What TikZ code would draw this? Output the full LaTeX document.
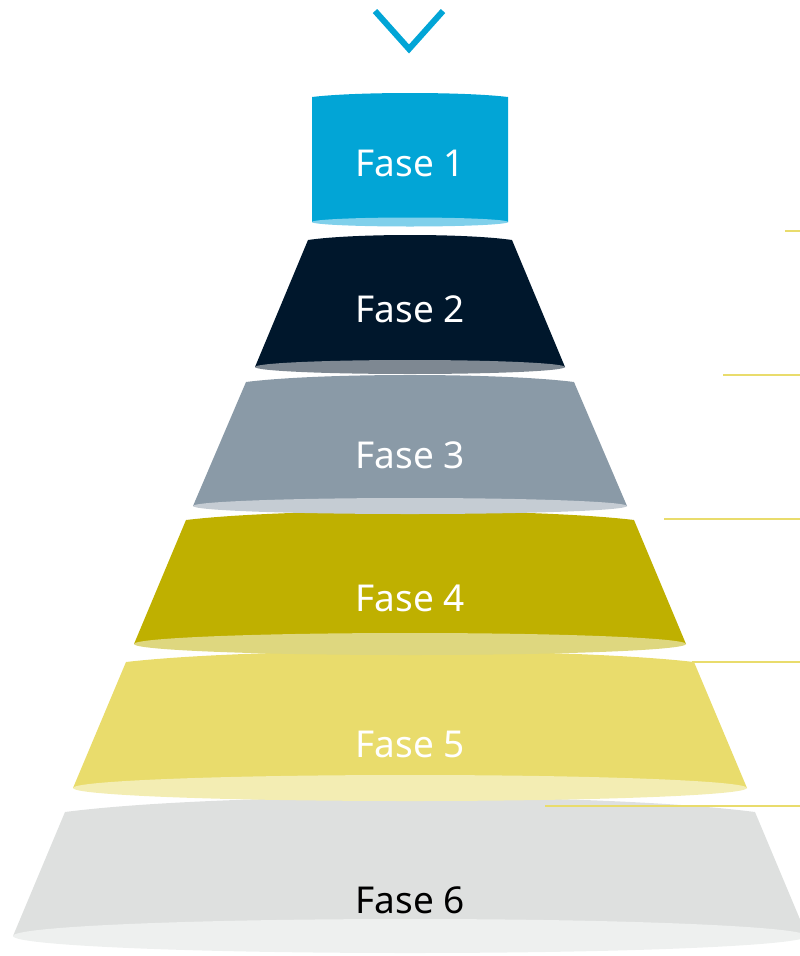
\documentclass[tikz,border=0pt]{standalone}
\usepackage{fontspec}
\setmainfont{Noto Sans}
\usetikzlibrary{calc}
\definecolor{fase1}{HTML}{02A5D6}
\definecolor{fase1 base}{HTML}{80D0EB}
\definecolor{fase2}{HTML}{00172C}
\definecolor{fase2 base}{HTML}{7E8892}
\definecolor{fase3}{HTML}{8A9AA7}
\definecolor{fase3 base}{HTML}{C5CCD3}
\definecolor{fase4}{HTML}{BFB000}
\definecolor{fase4 base}{HTML}{DED77F}
\definecolor{fase5}{HTML}{E9DC6C}
\definecolor{fase5 base}{HTML}{F3EDB3}
\definecolor{fase6}{HTML}{DEE0DF}
\definecolor{fase6 base}{HTML}{EEF0EF}
\definecolor{leaderyellow}{HTML}{E9DC6C}

\begin{document}
\begin{tikzpicture}[x=1pt, y=-1pt,
    fase label/.style={font=\fontsize{37}{42}\selectfont, inner sep=0pt},
    leader/.style={draw=leaderyellow, line width=1.2pt}]
    \useasboundingbox (0,0) rectangle (800,956);

    % Freccia in alto
    \coordinate (chev l) at (375,11);
    \coordinate (chev m) at (409,49);
    \coordinate (chev r) at (443,11);
    \draw[fase1, line width=6pt] (chev l) -- (chev m) -- (chev r);

    % Segmenti (dal basso verso l'alto)
    \foreach \n/\yt/\wt/\yb/\wb/\rt/\rb/\ty/\tc in {
        6/812/345/936/397/15/17/900/black,
        5/662/284/788/337/11/13/744/white,
        4/520/224/644/276/9/11/598/white,
        3/382/164/506/217/7/8/455/white,
        2/240/102/367/155/5/7/309/white,
        1/97/98/222/98/4/4.5/163/white}{
        \fill[fase\n] (410-\wt,\yt)
            .. controls (410-0.55*\wt,\yt-1.333*\rt) and (410+0.55*\wt,\yt-1.333*\rt) .. (410+\wt,\yt)
            -- (410+\wb,\yb) -- (410-\wb,\yb) -- cycle;
        \fill[fase\n\space base] (410,\yb) ellipse [x radius=\wb, y radius=\rb];
        \node[fase label, text=\tc] (fase\n) at (410,\ty) {Fase \n};
    }

    % Linee a destra
    \foreach \k/\xs/\yl in {1/785/231, 2/723/375, 3/664/519, 4/692/662, 5/545/806}{
        \coordinate (lead\k a) at (\xs,\yl);
        \coordinate (lead\k b) at (800,\yl);
        \draw[leader] (lead\k a) -- (lead\k b);
    }
\end{tikzpicture}
\end{document}
